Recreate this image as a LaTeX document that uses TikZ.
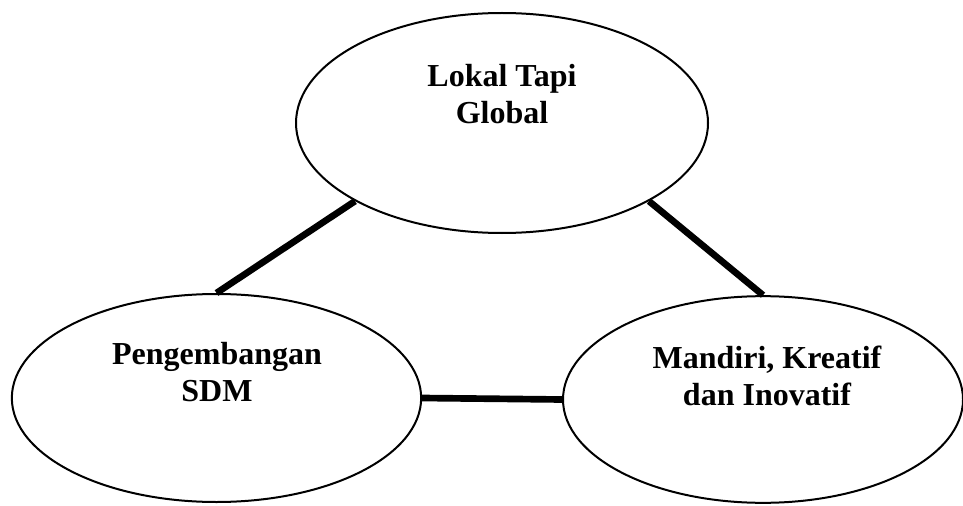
\documentclass[tikz,border=0pt]{standalone}
\usepackage{fontspec}
\setmainfont{Liberation Serif}
\usetikzlibrary{shapes.geometric}
\begin{document}
\begin{tikzpicture}[x=0.75pt,y=-0.75pt,
  oval/.style={draw=black,line width=1.5pt,ellipse,inner sep=0pt,fill=white},
  label text/.style={align=center,inner sep=0pt,font=\fontsize{24}{27.75}\selectfont\bfseries},
  link/.style={line width=5pt,draw=black}]
\useasboundingbox (0,0) rectangle (963,506);
\node[oval,minimum width=309pt,minimum height=165pt] (top) at (502,123) {};
\node[oval,minimum width=307pt,minimum height=156pt] (left) at (216.5,398) {};
\node[oval,minimum width=300pt,minimum height=155pt] (right) at (763,399.5) {};
\draw[link] (top.208) -- (left.north);
\draw[link] (top.332) -- (right.north);
\draw[link] (left.east) -- (right.west);
\node[label text] (ttop) at (502,94) {Lokal Tapi\\Global};
\node[label text] (tleft) at (217,372.5) {Pengembangan\\SDM};
\node[label text] (tright) at (767,375.5) {Mandiri, Kreatif\\dan Inovatif};
\end{tikzpicture}
\end{document}
